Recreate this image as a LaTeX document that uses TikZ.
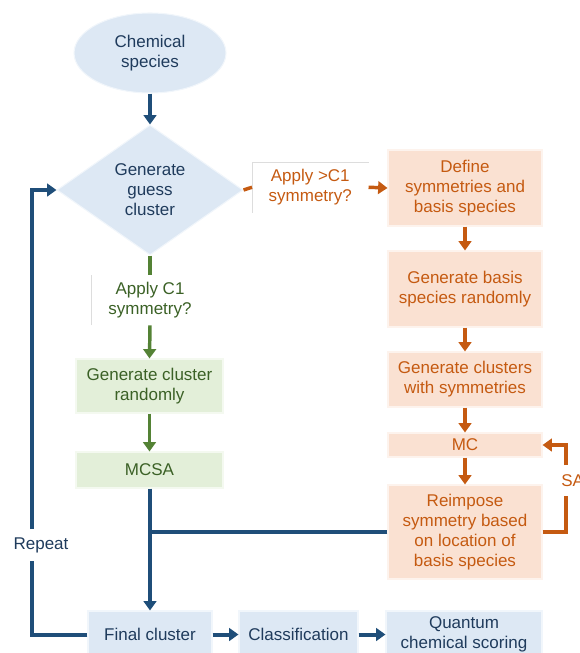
\documentclass[tikz,border=0pt]{standalone}
\usepackage{fontspec}
\setmainfont{Liberation Sans}
\usetikzlibrary{shapes.geometric,arrows.meta}
\definecolor{blueline}{HTML}{1F4E79}
\definecolor{bluetext}{HTML}{1F3B5C}
\definecolor{bluefill}{HTML}{DDE8F4}
\definecolor{orangeline}{HTML}{C55A11}
\definecolor{orangefill}{HTML}{FAE1D2}
\definecolor{greenline}{HTML}{548235}
\definecolor{greentext}{HTML}{3B6126}
\definecolor{greenfill}{HTML}{E3EFD9}
\definecolor{edgegray}{HTML}{DDDDDD}
\begin{document}
\begin{tikzpicture}[x=0.75pt,y=-0.75pt,>={Triangle[length=7pt,width=9.5pt]},
    every node/.style={font=\fontsize{12.75}{15}\selectfont,align=center,inner sep=0pt},
    bluebox/.style={rectangle,fill=bluefill,draw=bluefill!40!white,line width=0.8pt,text=bluetext},
    orangebox/.style={rectangle,fill=orangefill,draw=orangefill!40!white,line width=0.8pt,text=orangeline,minimum width=115.5pt},
    greenbox/.style={rectangle,fill=greenfill,draw=greenfill!40!white,line width=0.8pt,text=greentext,minimum width=110.25pt},
    blueflow/.style={draw=blueline,line width=3pt},
    orangeflow/.style={draw=orangeline,line width=2.6pt},
    greenflow/.style={draw=greenline,line width=2.6pt}]
    \useasboundingbox (0,0) rectangle (580,653);
    % start and guess
    \node[ellipse,fill=bluefill,draw=bluefill!40!white,line width=0.8pt,text=bluetext,
          minimum width=114pt,minimum height=60pt] (species) at (150,53) {Chemical\\species};
    \node[diamond,fill=bluefill,draw=bluefill!40!white,line width=0.8pt,text=bluetext,
          minimum width=139.5pt,minimum height=97.5pt] (guess) at (150,190) {Generate\\guess\\cluster};
    % symmetric branch
    \node[anchor=north west,text=orangeline,minimum width=87pt,minimum height=37.5pt] (gtlab) at (252,162) {Apply >C1\\symmetry?};
    \node[orangebox,minimum height=57pt] (define) at (465,188) {Define\\symmetries and\\basis species};
    \node[orangebox,minimum height=57pt] (basis) at (465,289) {Generate basis\\species randomly};
    \node[orangebox,minimum height=41.25pt] (clusters) at (465,379.5) {Generate clusters\\with symmetries};
    \node[orangebox,minimum height=18pt] (mc) at (465,445) {MC};
    \node[orangebox,minimum height=70.5pt] (reimpose) at (465,532) {Reimpose\\symmetry based\\on location of\\basis species};
    \node[anchor=west,text=orangeline] (sa) at (561,481) {SA};
    % C1 branch
    \node[text=greentext,minimum width=87pt,minimum height=37.5pt] (c1lab) at (150,300) {Apply C1\\symmetry?};
    \node[greenbox,minimum height=40.5pt] (random) at (149.5,386) {Generate cluster\\randomly};
    \node[greenbox,minimum height=27pt] (mcsa) at (149.5,470) {MCSA};
    % bottom row
    \node[bluebox,minimum width=93pt,minimum height=35.25pt] (final) at (150,634.5) {Final cluster};
    \node[bluebox,minimum width=89.25pt,minimum height=35.25pt] (class) at (298.5,634.5) {Classification};
    \node[bluebox,minimum width=117pt,minimum height=35.25pt] (quantum) at (464,634.5) {Quantum\\chemical scoring};
    \node[text=bluetext] (repeat) at (41,545) {Repeat};
    \coordinate (rpthi) at (32,529);
    \coordinate (rptlo) at (32,561);
    \coordinate (sahi) at (566,465);
    \coordinate (salo) at (566,496);
    % label edges
    \draw[edgegray,line width=0.6pt] (gtlab.south west) -- (gtlab.north west) -- (gtlab.north east);
    \draw[edgegray,line width=0.6pt] (c1lab.south west) -- (c1lab.north west);
    % connectors
    \draw[blueflow,->] (species) -- (guess);
    \draw[orangeflow] (guess.east) -- (gtlab.west);
    \draw[orangeflow,->] (gtlab.east) -- (define.west);
    \draw[orangeflow,->] (define) -- (basis);
    \draw[orangeflow,->] (basis) -- (clusters);
    \draw[orangeflow,->] (clusters) -- (mc);
    \draw[orangeflow,->] (mc) -- (reimpose);
    \draw[orangeflow] (reimpose.east) -| (salo);
    \draw[orangeflow,->] (sahi) |- (mc.east);
    \draw[greenflow] (guess.south) -- (c1lab.north);
    \draw[greenflow,->] (c1lab.south) -- (random.north);
    \draw[greenflow,->] (random) -- (mcsa);
    \draw[blueflow,->] (mcsa.south -| final.north) -- (final.north);
    \draw[blueflow] (reimpose.west) -- (final.north |- reimpose.west);
    \draw[blueflow,->] (final) -- (class);
    \draw[blueflow,->] (class) -- (quantum);
    \draw[blueflow] (final.west) -| (rptlo);
    \draw[blueflow,->] (rpthi) |- (guess.west);
\end{tikzpicture}
\end{document}
